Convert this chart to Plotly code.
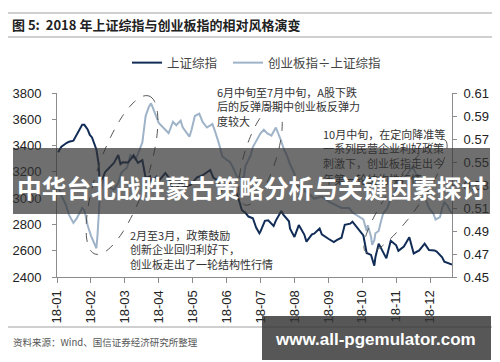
import numpy as np
import plotly.graph_objects as go

# ---------------- data ----------------
sse_dates = ["2018-01-02","2018-01-05","2018-01-10","2018-01-12","2018-01-16","2018-01-19","2018-01-24",
             "2018-01-26","2018-01-29","2018-01-31","2018-02-02","2018-02-06","2018-02-08","2018-02-09",
             "2018-02-12","2018-02-14","2018-02-22","2018-02-26","2018-02-28","2018-03-02","2018-03-07",
             "2018-03-12","2018-03-16","2018-03-20","2018-03-23","2018-03-27","2018-03-28","2018-04-02",
             "2018-04-04","2018-04-10","2018-04-13","2018-04-17","2018-04-20","2018-04-24","2018-04-27",
             "2018-05-03","2018-05-09","2018-05-14","2018-05-21","2018-05-24","2018-05-28","2018-05-30",
             "2018-06-01","2018-06-06","2018-06-12","2018-06-15","2018-06-19","2018-06-22","2018-06-25",
             "2018-06-29","2018-07-02","2018-07-05","2018-07-06","2018-07-10","2018-07-13","2018-07-18",
             "2018-07-20","2018-07-25","2018-07-27","2018-08-01","2018-08-02","2018-08-06","2018-08-10",
             "2018-08-15","2018-08-17","2018-08-22","2018-08-24","2018-08-29","2018-08-31","2018-09-06",
             "2018-09-11","2018-09-14","2018-09-18","2018-09-21","2018-09-26","2018-09-28","2018-10-08",
             "2018-10-11","2018-10-15","2018-10-18","2018-10-19","2018-10-22","2018-10-25","2018-10-29",
             "2018-11-02","2018-11-07","2018-11-09","2018-11-14","2018-11-19","2018-11-23","2018-11-28",
             "2018-12-03","2018-12-07","2018-12-12","2018-12-14","2018-12-19","2018-12-21","2018-12-25",
             "2018-12-28"]
sse_values = [3349,3391,3421,3429,3437,3487,3559,
              3558,3523,3481,3462,3370,3262,3129,
              3154,3199,3268,3329,3259,3273,3271,
              3326,3269,3290,3153,3166,3122,3163,
              3131,3190,3159,3067,3071,3128,3082,
              3101,3159,3174,3214,3155,3135,3041,
              3075,3115,3080,3022,2908,2890,2860,
              2847,2776,2733,2747,2827,2831,2788,
              2829,2903,2873,2824,2768,2705,2795,
              2723,2669,2724,2730,2769,2725,2691,
              2665,2682,2699,2797,2806,2821,2716,
              2583,2568,2486,2550,2654,2603,2542,
              2676,2641,2599,2632,2703,2579,2602,
              2654,2605,2602,2594,2550,2516,2504,
              2494]

ratio_dates = ["2018-01-02","2018-01-05","2018-01-09","2018-01-12","2018-01-16","2018-01-19","2018-01-24",
               "2018-01-26","2018-01-29","2018-02-01","2018-02-06","2018-02-07","2018-02-09","2018-02-12",
               "2018-02-14","2018-02-22","2018-02-26","2018-03-01","2018-03-06","2018-03-09","2018-03-14",
               "2018-03-20","2018-03-23","2018-03-26","2018-03-28","2018-03-30","2018-04-02","2018-04-04",
               "2018-04-10","2018-04-13","2018-04-17","2018-04-20","2018-04-24","2018-04-26","2018-05-02",
               "2018-05-04","2018-05-07","2018-05-11","2018-05-14","2018-05-18","2018-05-23","2018-05-25",
               "2018-05-29","2018-06-01","2018-06-05","2018-06-08","2018-06-11","2018-06-14","2018-06-19",
               "2018-06-21","2018-06-22","2018-06-27","2018-06-29","2018-07-03","2018-07-06","2018-07-09",
               "2018-07-12","2018-07-16","2018-07-18","2018-07-20","2018-07-25","2018-07-27","2018-07-30",
               "2018-08-02","2018-08-06","2018-08-08","2018-08-13","2018-08-15","2018-08-20","2018-08-24",
               "2018-08-31","2018-09-03","2018-09-07","2018-09-12","2018-09-18","2018-09-25","2018-09-28",
               "2018-10-08","2018-10-09","2018-10-11","2018-10-12","2018-10-15","2018-10-16","2018-10-18",
               "2018-10-19","2018-10-22","2018-10-24","2018-10-26","2018-10-30","2018-11-01","2018-11-05",
               "2018-11-07","2018-11-09","2018-11-13","2018-11-16","2018-11-20","2018-11-22","2018-11-26",
               "2018-11-28","2018-11-30","2018-12-03","2018-12-05","2018-12-07","2018-12-11","2018-12-13",
               "2018-12-17","2018-12-19","2018-12-21","2018-12-24","2018-12-26","2018-12-28"]
ratio_values = [0.529,0.521,0.513,0.504,0.497,0.501,0.510,
                0.508,0.495,0.486,0.475,0.486,0.517,0.537,
                0.530,0.526,0.532,0.541,0.545,0.556,0.552,
                0.567,0.590,0.598,0.601,0.596,0.588,0.584,
                0.578,0.575,0.585,0.582,0.586,0.580,0.572,
                0.578,0.590,0.592,0.585,0.580,0.583,0.578,
                0.566,0.555,0.552,0.550,0.545,0.538,0.535,
                0.538,0.546,0.556,0.563,0.570,0.575,0.578,
                0.575,0.573,0.576,0.580,0.568,0.562,0.556,
                0.548,0.540,0.528,0.530,0.525,0.522,0.518,
                0.520,0.518,0.515,0.513,0.510,0.510,0.506,
                0.500,0.497,0.490,0.495,0.485,0.478,0.482,
                0.488,0.490,0.498,0.505,0.510,0.516,0.522,
                0.525,0.528,0.535,0.538,0.543,0.546,0.538,
                0.530,0.524,0.520,0.515,0.510,0.505,0.500,
                0.502,0.510,0.515,0.512,0.508,0.505]

left_range = [2400, 3800]
right_range = [0.45, 0.61]
x_range = ["2018-01-01", "2018-12-28"]

title_text = "图 5:  2018 年上证综指与创业板指的相对风格演变"
name_sse = "上证综指"
name_ratio = "创业板指÷上证综指"
note1 = "6月中旬至7月中旬，A股下跌<br>后的反弹周期中创业板反弹力<br>度较大"
note2 = "10月中旬，在定向降准等<br>一系列民营企业利好政策<br>刺激下，创业板指走出今"
note2b = "年第一轮结构性行情"
note3 = "2月至3月，政策鼓励<br>创新企业回归利好下，<br>创业板走出了一轮结构性行情"
source_text = "资料来源：Wind、国信证券经济研究所整理"
banner_text = "中华台北战胜蒙古策略分析与关键因素探讨"
site_text = "www.all-pgemulator.com"

# ---------------- layout helpers (screen pixel -> paper) ----------------
OFF = 8                      # page body margin in the browser
SW, SH = 500, 362            # screen size
W, H = SW - OFF, SH - OFF    # figure size
PL, PR, PT, PB = 57, 452, 93, 277   # plot area in screen pixels


def px(x):
    return (x - PL) / (PR - PL)


def py(y):
    return (PB - y) / (PB - PT)


def ellipse_path(x1, y1, x2, y2, b, n=90):
    cx, cy = (x1 + x2) / 2, (y1 + y2) / 2
    a = np.hypot(x2 - x1, y2 - y1) / 2
    ang = np.arctan2(y2 - y1, x2 - x1)
    t = np.linspace(0, 2 * np.pi, n)
    xs = cx + a * np.cos(t) * np.cos(ang) - b * np.sin(t) * np.sin(ang)
    ys = cy + a * np.cos(t) * np.sin(ang) + b * np.sin(t) * np.cos(ang)
    pts = [f"{px(x):.4f},{py(y):.4f}" for x, y in zip(xs, ys)]
    return "M" + " L".join(pts) + " Z"


CJK = "Noto Sans CJK SC"
AX = "#8c8c8c"

fig = go.Figure()
fig.add_trace(go.Scatter(x=sse_dates, y=sse_values, name=name_sse, mode="lines",
                         line=dict(color="#112d57", width=2), yaxis="y2", legendwidth=56))
fig.add_trace(go.Scatter(x=ratio_dates, y=ratio_values, name=name_ratio, mode="lines",
                         line=dict(color="#9fb3c8", width=2), yaxis="y"))

shapes = []
for yy in (13, 37, 327):
    shapes.append(dict(type="line", xref="paper", yref="paper", x0=px(3), x1=px(492),
                       y0=py(yy), y1=py(yy), line=dict(color="#a0a0a0", width=1)))
for (x1, y1, x2, y2, b) in [(95, 254, 149, 96, 25), (245, 205, 276, 106, 16), (366, 252, 445, 140, 16)]:
    shapes.append(dict(type="path", xref="paper", yref="paper", path=ellipse_path(x1, y1, x2, y2, b),
                       line=dict(color="#555555", width=1, dash="dash"), layer="above"))
# overlay banner
shapes.append(dict(type="rect", xref="paper", yref="paper", x0=px(13), x1=px(490), y0=py(214), y1=py(148),
                   fillcolor="rgba(50,50,50,0.70)", line=dict(width=0), layer="above"))
shapes.append(dict(type="rect", xref="paper", yref="paper", x0=px(262), x1=px(491), y0=py(360), y1=py(316),
                   fillcolor="rgba(50,50,50,0.82)", line=dict(width=0), layer="above"))

annotations = [
    dict(text=f"<b>{title_text}</b>", x=px(10), y=py(25), xanchor="left", yanchor="middle",
         font=dict(family=CJK, size=13, color="#222")),
    dict(text=note1, x=px(215), y=py(82), xanchor="left", yanchor="top", align="left",
         font=dict(family=CJK, size=11, color="#333")),
    dict(text=note2, x=px(321), y=py(124), xanchor="left", yanchor="top", align="left",
         font=dict(family=CJK, size=11, color="#333")),
    dict(text=note2b, x=px(321), y=py(169), xanchor="left", yanchor="top", align="left",
         font=dict(family=CJK, size=11, color="#303030")),
    dict(text=note3, x=px(128), y=py(225), xanchor="left", yanchor="top", align="left",
         font=dict(family=CJK, size=11, color="#333")),
    dict(text=source_text, x=px(11), y=py(342), xanchor="left", yanchor="middle",
         font=dict(family=CJK, size=9.5, color="#555")),
    dict(text=f"<b>{banner_text}</b>", x=px(251), y=py(187), xanchor="center", yanchor="middle",
         font=dict(family=CJK, size=24.7, color="white")),
    dict(text=f"<b>{site_text}</b>", x=px(375), y=py(339), xanchor="center", yanchor="middle",
         font=dict(family="Liberation Sans", size=17, color="white")),
]
for a in annotations:
    a.update(xref="paper", yref="paper", showarrow=False)

tickfont = dict(family="Liberation Sans", size=13, color="#222")
fig.update_layout(
    width=W, height=H,
    margin=dict(l=PL - OFF, r=SW - PR, t=PT - OFF, b=SH - PB, pad=0, autoexpand=False),
    paper_bgcolor="white", plot_bgcolor="white",
    showlegend=True,
    legend=dict(orientation="h", x=px(127), y=py(48), xanchor="left", yanchor="top",
                font=dict(family=CJK, size=12.5, color="#444"), bgcolor="rgba(0,0,0,0)",
                itemwidth=30),
    xaxis=dict(type="date", range=x_range, tick0="2018-01-01", dtick=31 * 86400000,
               tickformat="%y-%m", tickangle=-90, showgrid=False, zeroline=False,
               showline=True, linecolor=AX, linewidth=1, ticks="outside", ticklen=5,
               tickcolor=AX, tickfont=tickfont, ticklabelstandoff=2, automargin=False),
    yaxis=dict(side="right", range=right_range, tick0=0.45, dtick=0.02, tickformat=".2f", showgrid=False,
               zeroline=False, showline=True, linecolor=AX, ticks="outside", ticklen=4,
               tickcolor=AX, tickfont=tickfont, ticklabelstandoff=4, automargin=False),
    yaxis2=dict(overlaying="y", side="left", range=left_range, dtick=200, showgrid=False,
                zeroline=False, showline=True, linecolor=AX, ticks="outside", ticklen=4,
                tickcolor=AX, tickfont=tickfont, ticklabelstandoff=8, automargin=False),
    shapes=shapes,
    annotations=annotations,
)

fig.write_html("out.html")
